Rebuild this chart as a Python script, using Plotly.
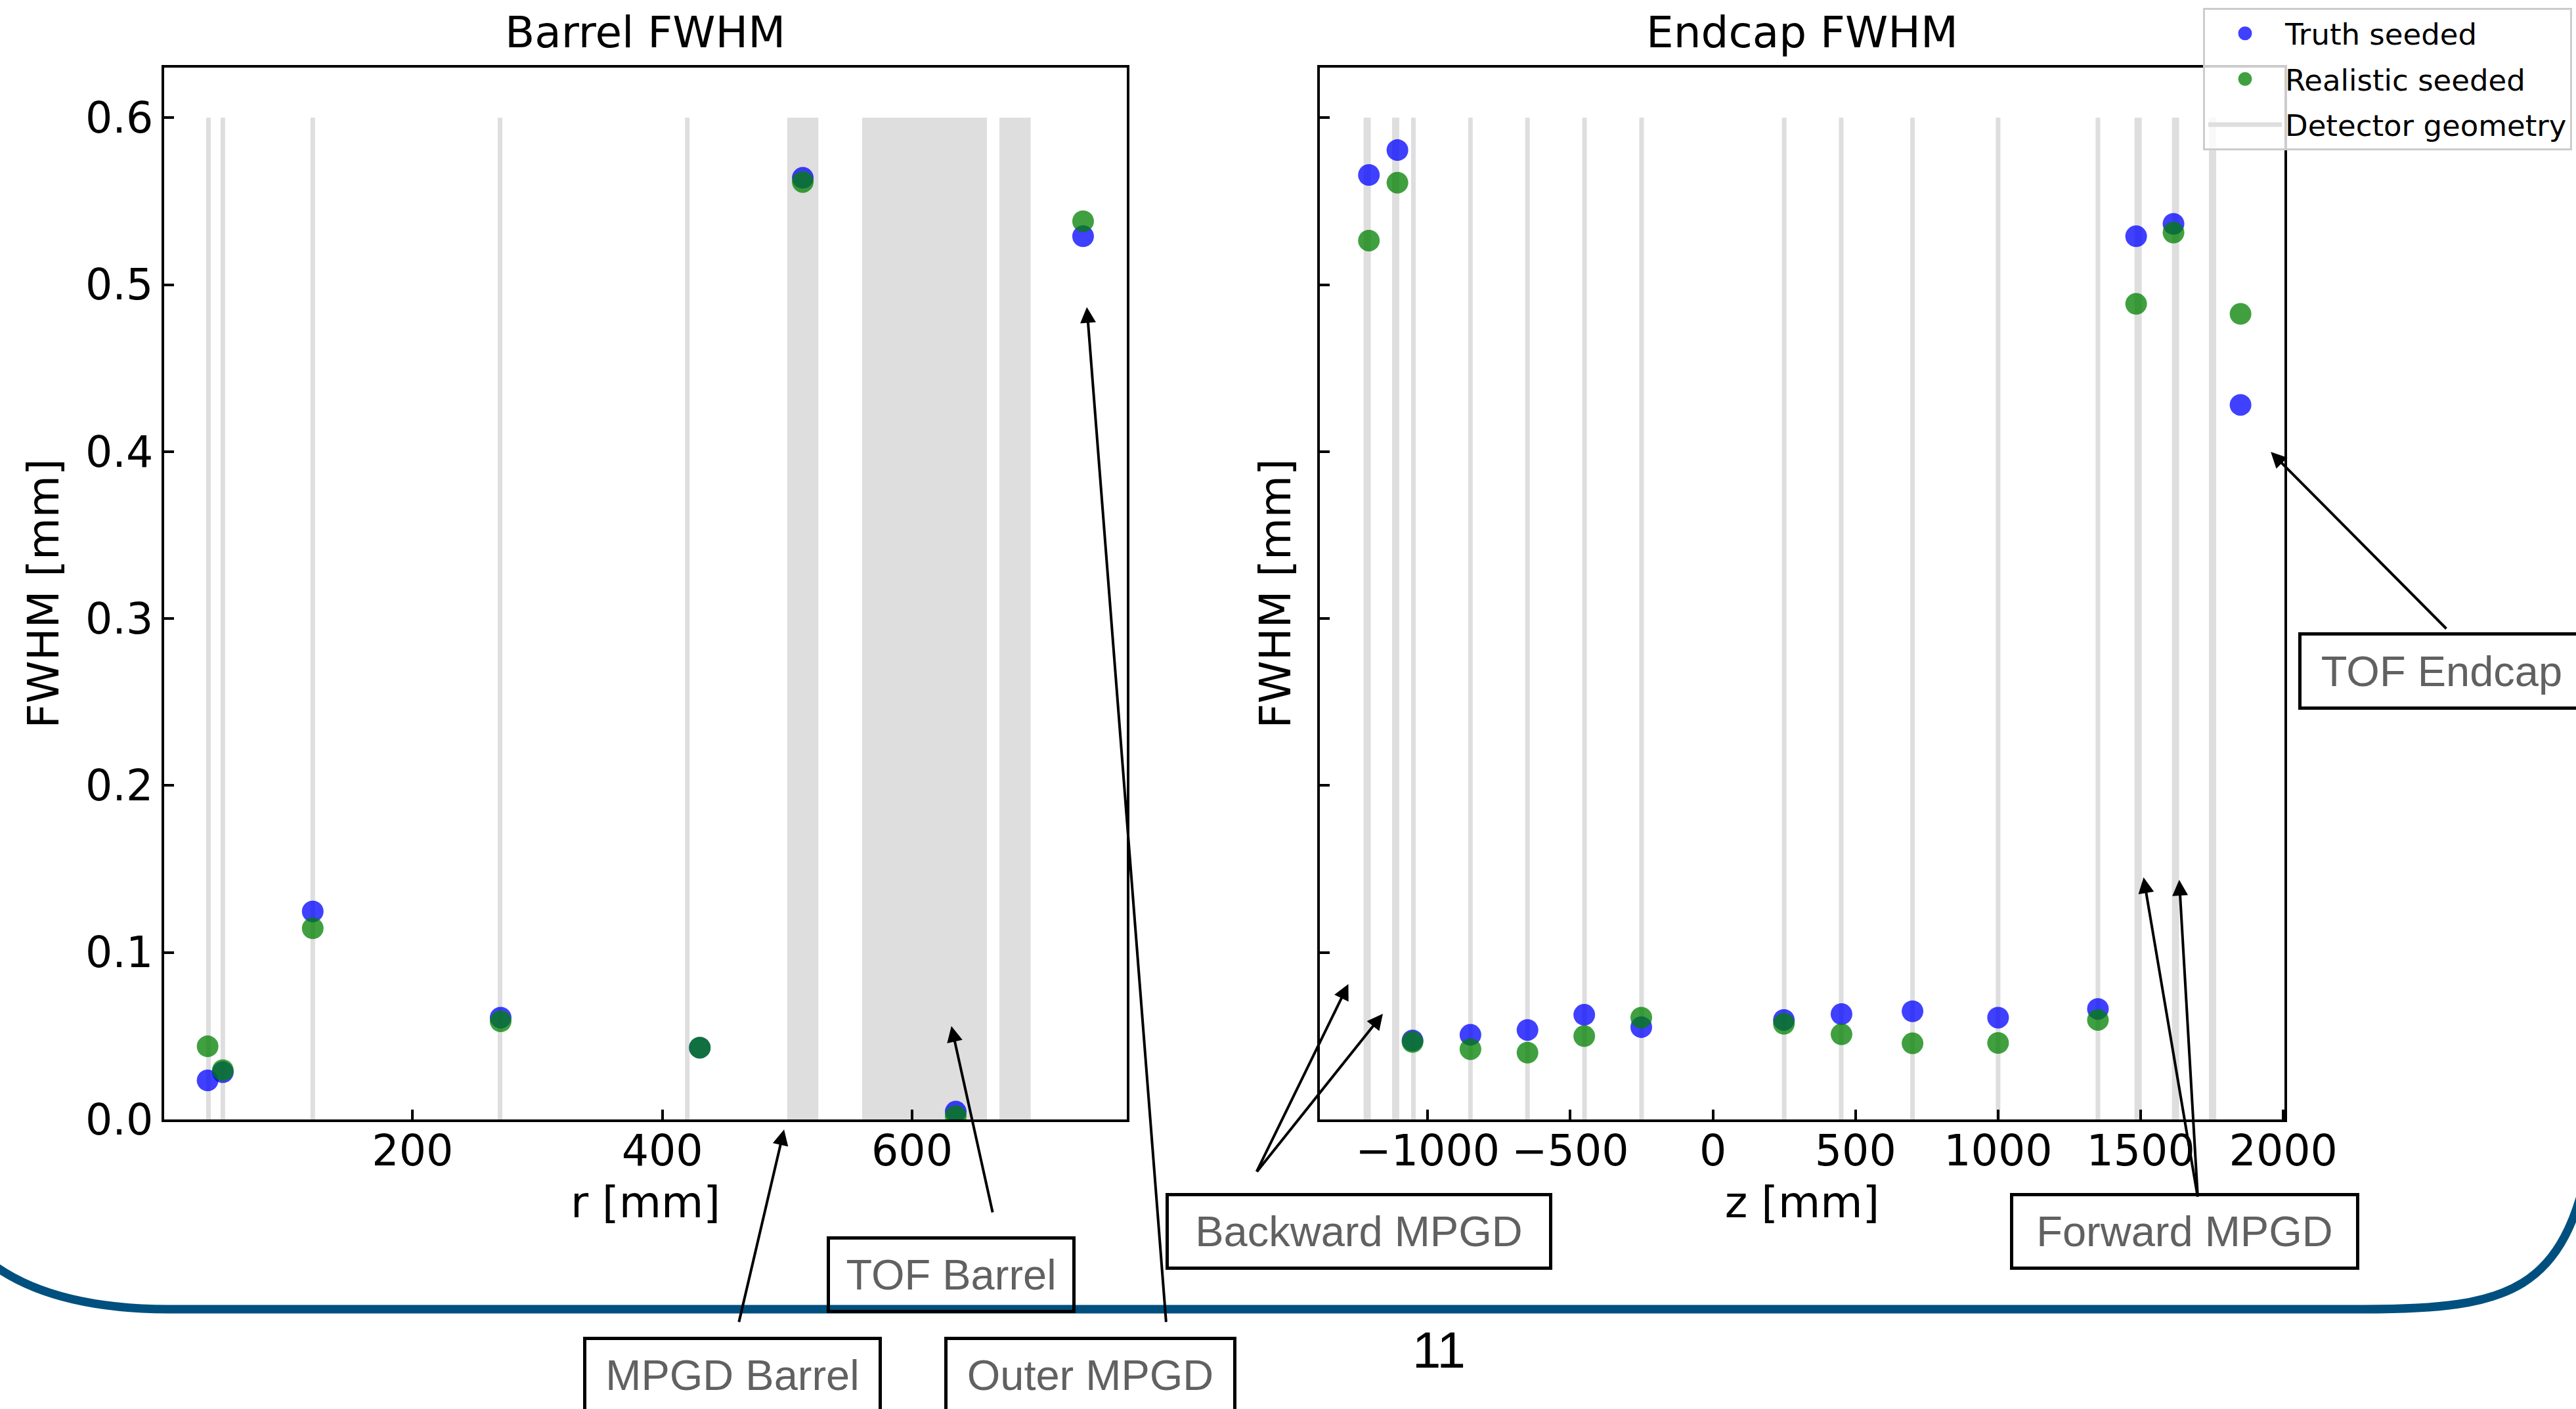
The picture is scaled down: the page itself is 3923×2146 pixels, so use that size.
import plotly.graph_objects as go

W, H = 3923, 2146

# ---------------- data ----------------
barrel_r = [35.8, 48, 120, 270.5, 430, 512.5, 635, 737]
barrel_truth = [0.0234, 0.0283, 0.1246, 0.0610, 0.0430, 0.5640, 0.0047, 0.5290]
barrel_real = [0.0438, 0.0295, 0.1145, 0.0588, 0.0430, 0.5615, 0.0020, 0.5380]

endcap_z = [-1206, -1106, -1053, -850, -650, -451, -251, 249, 451, 700, 1000, 1350, 1484, 1615, 1850]
endcap_truth = [0.5657, 0.5806, 0.0473, 0.0507, 0.0536, 0.0627, 0.0553, 0.0596, 0.0631, 0.0648,
                0.0610, 0.0662, 0.5290, 0.5364, 0.4280]
endcap_real = [0.5264, 0.5611, 0.0464, 0.0421, 0.0400, 0.0499, 0.0610, 0.0573, 0.0510, 0.0456,
               0.0458, 0.0596, 0.4885, 0.5312, 0.4825]

barrel_geom_lines = [36.5, 48, 120, 270, 420]
barrel_geom_bands = [(500, 525), (560, 660), (670, 695)]
endcap_geom_lines = [-1050, -850, -650, -450, -250, 250, 450, 700, 1000, 1350]
endcap_geom_thick = [-1212, -1112, 1491, 1622, 1752]
geom_top = 0.6

barrel_xticks = [200, 400, 600]
endcap_xticks = [-1000, -500, 0, 500, 1000, 1500, 2000]
y_ticks = [0.0, 0.1, 0.2, 0.3, 0.4, 0.5, 0.6]

series_names = ["Truth seeded", "Realistic seeded", "Detector geometry"]

# annotations: (label, box centre px, box size px)
label_boxes = [
    ("TOF Barrel", (1448.5, 1941.5), (379, 117)),
    ("MPGD Barrel", (1115.5, 2094.5), (455, 117)),
    ("Outer MPGD", (1660.5, 2094.5), (445, 117)),
    ("Backward MPGD", (2069.5, 1875.5), (589, 117)),
    ("Forward MPGD", (3327.0, 1875.5), (532, 117)),
    ("TOF Endcap", (3718.5, 1022.0), (437, 118)),
]
# arrows: (axis, head data x, head data y, tail px)
arrows = [
    ("barrel", 497.5, -0.006, (1125, 2015)),
    ("barrel", 631.5, 0.0559, (1512, 1848)),
    ("barrel", 740.0, 0.4866, (1776, 2015)),
    ("endcap", -1278, 0.0811, (1913, 1786)),
    ("endcap", -1157, 0.0633, (1913, 1786)),
    ("endcap", 1510, 0.1450, (3347, 1824)),
    ("endcap", 1635, 0.1435, (3347, 1824)),
    ("endcap", 1956, 0.3998, (3727, 959)),
]

# ---------------- geometry of the page ----------------
BX = (250, 1716)
EX = (2010, 3479)
PY = (103, 1705)
BR = [1, 772]
ER = [-1378, 2004]
YR = [0, 0.63]


def px(xp):
    return xp / W


def py(yp):
    return 1 - yp / H


def data_to_px(axis, xv, yv):
    dom, rng = (BX, BR) if axis == "barrel" else (EX, ER)
    xp = dom[0] + (xv - rng[0]) / (rng[1] - rng[0]) * (dom[1] - dom[0])
    yp = PY[1] - (yv - YR[0]) / (YR[1] - YR[0]) * (PY[1] - PY[0])
    return xp, yp


FONT = "DejaVu Sans"
LFONT = "Liberation Sans, Arial, Helvetica"
GEOM = "#dedede"
BLUE = "rgba(0,0,255,0.75)"
GREEN = "rgba(0,128,0,0.75)"
BLUE_SOLID = "#4040ff"
GREEN_SOLID = "#40a040"
TITLE_SIZE = 66
TICK_SIZE = 65


def vlines(xs, top):
    xx, yy = [], []
    for v in xs:
        xx += [v, v, None]
        yy += [0, top, None]
    return xx, yy


fig = go.Figure()

# geometry lines
bx, by = vlines(barrel_geom_lines, geom_top)
fig.add_trace(go.Scatter(x=bx, y=by, mode="lines", line=dict(color=GEOM, width=7),
                         name=series_names[2], legendrank=3, legendgroup="geom",
                         xaxis="x", yaxis="y", hoverinfo="skip"))
ex, ey = vlines(endcap_geom_lines, geom_top)
fig.add_trace(go.Scatter(x=ex, y=ey, mode="lines", line=dict(color=GEOM, width=7),
                         showlegend=False, legendgroup="geom", xaxis="x2", yaxis="y2",
                         hoverinfo="skip"))
ex2, ey2 = vlines(endcap_geom_thick, geom_top)
fig.add_trace(go.Scatter(x=ex2, y=ey2, mode="lines", line=dict(color=GEOM, width=11),
                         showlegend=False, legendgroup="geom", xaxis="x2", yaxis="y2",
                         hoverinfo="skip"))

shapes = []
for a, b in barrel_geom_bands:
    shapes.append(dict(type="rect", xref="x", yref="y", x0=a, x1=b, y0=0, y1=geom_top,
                       fillcolor=GEOM, line=dict(width=0), layer="below"))

# data points
fig.add_trace(go.Scatter(x=barrel_r, y=barrel_truth, mode="markers", name=series_names[0],
                         marker=dict(color=BLUE, size=33, line=dict(width=0)), showlegend=False,
                         legendgroup="truth", xaxis="x", yaxis="y"))
fig.add_trace(go.Scatter(x=barrel_r, y=barrel_real, mode="markers", name=series_names[1],
                         marker=dict(color=GREEN, size=33, line=dict(width=0)), showlegend=False,
                         legendgroup="real", xaxis="x", yaxis="y"))
fig.add_trace(go.Scatter(x=endcap_z, y=endcap_truth, mode="markers", name=series_names[0],
                         marker=dict(color=BLUE, size=33, line=dict(width=0)), showlegend=False,
                         legendgroup="truth", xaxis="x2", yaxis="y2"))
fig.add_trace(go.Scatter(x=endcap_z, y=endcap_real, mode="markers", name=series_names[1],
                         marker=dict(color=GREEN, size=33, line=dict(width=0)), showlegend=False,
                         legendgroup="real", xaxis="x2", yaxis="y2"))
# legend entries (the legend caps marker size, so a marker outline enlarges the symbol)
fig.add_trace(go.Scatter(x=[None], y=[None], mode="markers", name=series_names[0],
                         legendgroup="truth", legendrank=1,
                         marker=dict(color=BLUE_SOLID, size=16, line=dict(width=5, color=BLUE_SOLID)),
                         xaxis="x2", yaxis="y2"))
fig.add_trace(go.Scatter(x=[None], y=[None], mode="markers", name=series_names[1],
                         legendgroup="real", legendrank=2,
                         marker=dict(color=GREEN_SOLID, size=16, line=dict(width=5, color=GREEN_SOLID)),
                         xaxis="x2", yaxis="y2"))


# slide decoration line
def P(x, y):
    return f"{px(x):.5f},{py(y):.5f}"


deco = (f"M{P(-50, 1890)} Q{P(40, 1994)} {P(260, 1994)} L{P(3600, 1994)} "
        f"C{P(3825, 1994)} {P(3905, 1965)} {P(3945, 1760)}")
shapes.append(dict(type="path", xref="paper", yref="paper", path=deco,
                   line=dict(color="#00507F", width=13), layer="above"))

annotations = []
# subplot titles
annotations.append(dict(text="Barrel FWHM", xref="x domain", yref="paper", x=0.5, y=py(50),
                        showarrow=False, font=dict(family=FONT, size=TITLE_SIZE, color="black"),
                        xanchor="center", yanchor="middle"))
annotations.append(dict(text="Endcap FWHM", xref="x2 domain", yref="paper", x=0.5, y=py(50),
                        showarrow=False, font=dict(family=FONT, size=TITLE_SIZE, color="black"),
                        xanchor="center", yanchor="middle"))

for text, (cx, cy), (bw, bh) in label_boxes:
    annotations.append(dict(text=text, xref="paper", yref="paper", x=px(cx), y=py(cy),
                            showarrow=False, xanchor="center", yanchor="middle",
                            font=dict(family=LFONT, size=65, color="#616161"),
                            bordercolor="black", borderwidth=5, borderpad=0,
                            width=bw - 10, height=bh - 10, bgcolor="rgba(0,0,0,0)"))

for axis, hx, hy, (tx, ty) in arrows:
    hxp, hyp = data_to_px(axis, hx, hy)
    xr, yr = ("x", "y") if axis == "barrel" else ("x2", "y2")
    if hy < YR[0]:
        yref = yr + " domain"
        yval = (hy - YR[0]) / (YR[1] - YR[0])
    else:
        yref = yr
        yval = hy
    annotations.append(dict(text="", xref=xr, yref=yref, x=hx, y=yval,
                            ax=tx - hxp, ay=ty - hyp, axref="pixel", ayref="pixel",
                            showarrow=True, arrowhead=2, arrowsize=1.2, arrowwidth=4,
                            arrowcolor="black", standoff=0, startstandoff=0))

annotations.append(dict(text="11", xref="paper", yref="paper", x=px(2191), y=py(2056),
                        showarrow=False, xanchor="center", yanchor="middle",
                        font=dict(family=LFONT, size=78, color="black")))

axis_common = dict(ticks="inside", ticklen=15, tickwidth=3.5, tickcolor="black",
                   showline=True, linecolor="black", linewidth=3.5, mirror=True,
                   showgrid=False, zeroline=False, automargin=False, tickangle=0,
                   tickfont=dict(family=FONT, size=TICK_SIZE, color="black"))

fig.update_layout(
    width=W, height=H, autosize=False,
    margin=dict(l=0, r=0, t=0, b=0, pad=0, autoexpand=False),
    paper_bgcolor="white", plot_bgcolor="white",
    font=dict(family=FONT, color="black"),
    showlegend=True,
    legend=dict(xref="paper", yref="paper", x=px(3355), y=py(12),
                xanchor="left", yanchor="top",
                font=dict(family=FONT, size=45, color="black"),
                bgcolor="rgba(255,255,255,0.8)", bordercolor="#cccccc", borderwidth=3,
                itemwidth=112, traceorder="grouped", tracegroupgap=8),
    xaxis=dict(domain=[px(BX[0]), px(BX[1])], range=BR, anchor="y",
               tickmode="array", tickvals=barrel_xticks, ticklabelstandoff=-12,
               title=dict(text="r [mm]", font=dict(family=FONT, size=TITLE_SIZE), standoff=20),
               **axis_common),
    yaxis=dict(domain=[py(PY[1]), py(PY[0])], range=YR, anchor="x",
               tickmode="array", tickvals=y_ticks, tickformat=".1f",
               title=dict(text="FWHM [mm]", font=dict(family=FONT, size=TITLE_SIZE), standoff=20),
               **axis_common),
    xaxis2=dict(domain=[px(EX[0]), px(EX[1])], range=ER, anchor="y2",
                tickmode="array", tickvals=endcap_xticks, ticklabelstandoff=-12,
                title=dict(text="z [mm]", font=dict(family=FONT, size=TITLE_SIZE), standoff=20),
                **axis_common),
    yaxis2=dict(domain=[py(PY[1]), py(PY[0])], range=YR, anchor="x2",
                tickmode="array", tickvals=y_ticks, showticklabels=False,
                title=dict(text="FWHM [mm]", font=dict(family=FONT, size=TITLE_SIZE), standoff=20),
                **axis_common),
    shapes=shapes,
    annotations=annotations,
)

fig.write_html("out.html")
